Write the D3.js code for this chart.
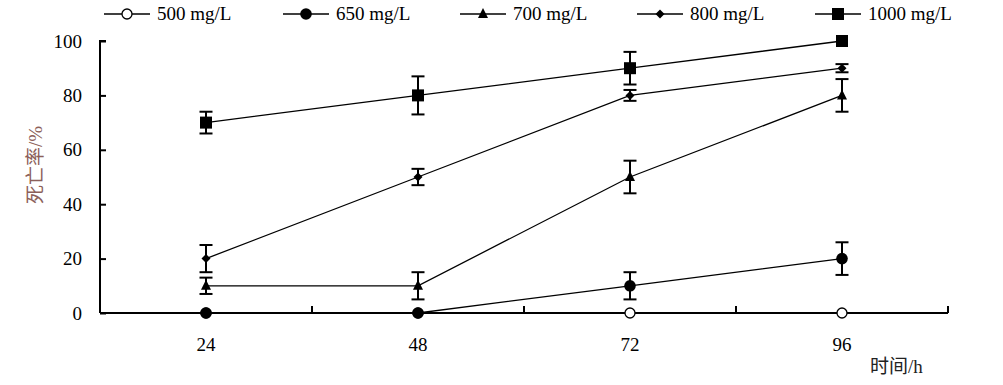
<!DOCTYPE html>
<html>
<head>
<meta charset="utf-8">
<script src="https://cdn.jsdelivr.net/npm/d3@7"></script>
<style>
  body { margin: 0; background: #fff; }
</style>
</head>
<body>
<div id="chart"></div>
<script>
// categories (hours) and series
var hours = ["24", "48", "72", "96"];
var seriesNames = ["500 mg/L", "650 mg/L", "700 mg/L", "800 mg/L", "1000 mg/L"];
var markers = ["circleOpen", "circle", "triangle", "diamond", "square"];

var v500 = [0, 0, 0, 0];
var v650 = [0, 0, 10, 20];
var v700 = [10, 10, 50, 80];
var v800 = [20, 50, 80, 90];
var v1000 = [70, 80, 90, 100];

var e500 = [0, 0, 0, 0];
var e650 = [0, 0, 5, 6];
var e700 = [3, 5, 6, 6];
var e800 = [5, 3, 2, 1.5];
var e1000 = [4, 7, 6, 0];

var yTicks = [0, 20, 40, 60, 80, 100];

var values = [v500, v650, v700, v800, v1000];
var errors = [e500, e650, e700, e800, e1000];

var serif = "'Liberation Serif', 'Times New Roman', 'Noto Sans CJK SC', serif";
var fs = 19;

var W = 1003, H = 385;
var margin = {top: 41, left: 100};
var width = 948 - margin.left,
    height = 313 - margin.top;

var svg = d3.select("#chart").append("svg")
    .attr("width", W).attr("height", H)
    .style("font-family", serif);

var g = svg.append("g")
    .attr("transform", "translate(" + margin.left + "," + margin.top + ")");

var x = d3.scaleBand().domain(hours).range([0, width]);
var y = d3.scaleLinear().domain([0, 100]).range([height, 0]);

// y axis, ticks pointing inside
var yAxis = g.append("g")
  .call(d3.axisLeft(y).tickValues(yTicks).tickSize(-6).tickPadding(18));
yAxis.attr("font-family", null).style("font-family", serif);
yAxis.select(".domain").attr("stroke-width", 2).attr("d", "M0," + height + "V0H6");
yAxis.selectAll(".tick line").attr("stroke-width", 2);
yAxis.selectAll(".tick text").attr("font-size", fs).attr("fill", "#000")
  .style("font-family", serif);

// x axis: band boundaries ticked, labels at band centres
var xAxis = g.append("g")
  .attr("transform", "translate(0," + height + ")");
xAxis.append("line")
  .attr("x1", 0).attr("x2", width).attr("y1", 0).attr("y2", 0)
  .attr("stroke", "#000").attr("stroke-width", 2);
xAxis.selectAll(".bt").data(hours).enter().append("line")
  .attr("x1", function(d) { return x(d) + x.bandwidth(); })
  .attr("x2", function(d) { return x(d) + x.bandwidth(); })
  .attr("y1", 0).attr("y2", -7)
  .attr("stroke", "#000").attr("stroke-width", 2);
xAxis.selectAll(".lbl").data(hours).enter().append("text")
  .attr("x", function(d) { return x(d) + x.bandwidth() / 2; })
  .attr("y", 38)
  .attr("text-anchor", "middle")
  .attr("font-size", fs)
  .style("font-family", serif)
  .text(function(d) { return d; });

// axis titles
svg.append("text")
  .attr("transform", "translate(42,165) rotate(-90)")
  .attr("text-anchor", "middle")
  .attr("font-size", 19)
  .attr("fill", "#8c5f5a")
  .style("font-family", serif)
  .text("死亡率/%");
svg.append("text")
  .attr("x", 870).attr("y", 373)
  .attr("font-size", 19)
  .attr("fill", "#222")
  .style("font-family", serif)
  .text("时间/h");

function cx(i) { return x(hours[i]) + x.bandwidth() / 2; }

var line = d3.line()
  .x(function(d, i) { return cx(i); })
  .y(function(d) { return y(d); });

function drawMarker(sel, type, px, py) {
  if (type == "circleOpen") {
    sel.append("circle").attr("cx", px).attr("cy", py).attr("r", 5)
      .attr("fill", "#fff").attr("stroke", "#000").attr("stroke-width", 1.3);
  } else if (type == "circle") {
    sel.append("circle").attr("cx", px).attr("cy", py).attr("r", 5.8).attr("fill", "#000");
  } else if (type == "triangle") {
    sel.append("path").attr("transform", "translate(" + px + "," + py + ")")
      .attr("d", "M0,-6L5,4L-5,4Z").attr("fill", "#000");
  } else if (type == "diamond") {
    sel.append("path").attr("transform", "translate(" + px + "," + py + ")")
      .attr("d", "M0,-4.5L4.5,0L0,4.5L-4.5,0Z").attr("fill", "#000");
  } else {
    sel.append("rect").attr("x", px - 6).attr("y", py - 6)
      .attr("width", 12).attr("height", 12).attr("fill", "#000");
  }
}

values.forEach(function(vals, s) {
  var sg = g.append("g");
  sg.append("path").datum(vals)
    .attr("d", line)
    .attr("fill", "none").attr("stroke", "#000").attr("stroke-width", 1.3);
  // error bars
  vals.forEach(function(v, i) {
    var e = errors[s][i];
    if (!e) return;
    var px = cx(i);
    sg.append("line").attr("x1", px).attr("x2", px)
      .attr("y1", y(v + e)).attr("y2", y(v - e))
      .attr("stroke", "#000").attr("stroke-width", 2);
    [v + e, v - e].forEach(function(w) {
      sg.append("line").attr("x1", px - 6.5).attr("x2", px + 6.5)
        .attr("y1", y(w)).attr("y2", y(w))
        .attr("stroke", "#000").attr("stroke-width", 2);
    });
  });
  vals.forEach(function(v, i) {
    drawMarker(sg, markers[s], cx(i), y(v));
  });
});

// legend
var legX = [104, 283, 460, 637, 815];
var leg = svg.append("g");
seriesNames.forEach(function(name, i) {
  var lx = legX[i];
  leg.append("line").attr("x1", lx).attr("x2", lx + 46)
    .attr("y1", 14).attr("y2", 14)
    .attr("stroke", "#000").attr("stroke-width", 1.5);
  drawMarker(leg, markers[i], lx + 23, 14);
  leg.append("text").attr("x", lx + 53).attr("y", 20)
    .attr("font-size", fs)
    .style("font-family", serif)
    .text(name);
});
</script>
</body>
</html>
